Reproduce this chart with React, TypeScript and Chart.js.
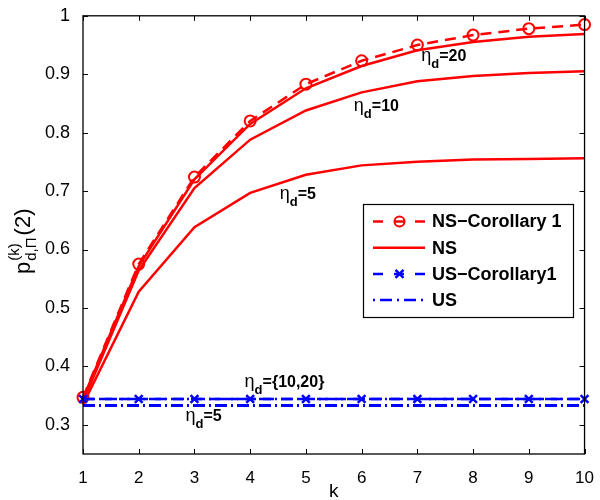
import React, { useEffect, useRef } from "react";
import { Chart, registerables } from "chart.js";

Chart.register(...registerables);

const kValues = [1, 2, 3, 4, 5, 6, 7, 8, 9, 10];
const nsCorollary20 = [0.347, 0.575, 0.724, 0.820, 0.883, 0.923, 0.950, 0.967, 0.978, 0.985];
const ns20 = [0.345, 0.571, 0.720, 0.815, 0.876, 0.914, 0.941, 0.955, 0.964, 0.969];
const ns10 = [0.340, 0.564, 0.705, 0.788, 0.838, 0.869, 0.888, 0.897, 0.902, 0.905];
const ns5 = [0.335, 0.528, 0.638, 0.697, 0.728, 0.744, 0.750, 0.754, 0.755, 0.756];
const usCorollary = [0.344, 0.344, 0.344, 0.344, 0.344, 0.344, 0.344, 0.344, 0.344, 0.344];
const us1020 = [0.344, 0.344, 0.344, 0.344, 0.344, 0.344, 0.344, 0.344, 0.344, 0.344];
const us5 = [0.333, 0.333, 0.333, 0.333, 0.333, 0.333, 0.333, 0.333, 0.333, 0.333];
const yTickValues = [0.3, 0.4, 0.5, 0.6, 0.7, 0.8, 0.9, 1.0];
const xTickValues = [1, 2, 3, 4, 5, 6, 7, 8, 9, 10];
const legendLabels = ["NS\u2212Corollary 1", "NS", "US\u2212Corollary1", "US"];
const annotations = [
  { k: 7.07, v: 0.922, text: "=20" },
  { k: 5.86, v: 0.837, text: "=10" },
  { k: 4.53, v: 0.686, text: "=5" },
  { k: 3.9, v: 0.365, text: "={10,20}" },
  { k: 2.84, v: 0.306, text: "=5" },
];

const RED = "#ff0000";
const BLUE = "#0000ff";
const FONT = "'Liberation Sans', Arial, Helvetica, sans-serif";

const toPts = (ys: number[]) => ys.map((y, i) => ({ x: kValues[i], y }));

export default function App() {
  const ref = useRef<HTMLCanvasElement | null>(null);
  useEffect(() => {
    if (!ref.current) return;
    const redDash = [11, 7];
    const blueDash = [11, 7];
    const blueDashDot = [12, 4, 2, 4];

    const framePlugin = {
      id: "frame",
      afterDraw(chart: any) {
        const ctx = chart.ctx;
        const a = chart.chartArea;
        const xs = chart.scales.x;
        const ys = chart.scales.y;
        ctx.save();
        ctx.strokeStyle = "#000";
        ctx.lineWidth = 1.3;
        ctx.setLineDash([]);
        ctx.strokeRect(a.left, a.top, a.right - a.left, a.bottom - a.top);
        const tl = 5;
        ctx.lineWidth = 1;
        ctx.beginPath();
        xTickValues.forEach((v) => {
          const px = Math.round(xs.getPixelForValue(v)) + 0.5;
          ctx.moveTo(px, a.bottom);
          ctx.lineTo(px, a.bottom - tl);
          ctx.moveTo(px, a.top);
          ctx.lineTo(px, a.top + tl);
        });
        yTickValues.forEach((v) => {
          const py = Math.round(ys.getPixelForValue(v)) + 0.5;
          ctx.moveTo(a.left, py);
          ctx.lineTo(a.left + tl, py);
          ctx.moveTo(a.right, py);
          ctx.lineTo(a.right - tl, py);
        });
        ctx.stroke();

        // annotations
        ctx.fillStyle = "#000";
        ctx.textBaseline = "alphabetic";
        ctx.textAlign = "left";
        annotations.forEach((an) => {
          const x = xs.getPixelForValue(an.k);
          const y = ys.getPixelForValue(an.v);
          ctx.font = `18px ${FONT}`;
          ctx.fillText("\u03b7", x, y);
          const ew = ctx.measureText("\u03b7").width;
          ctx.font = `bold 13px ${FONT}`;
          ctx.fillText("d", x + ew, y + 7);
          const dw = ctx.measureText("d").width;
          ctx.font = `bold 16px ${FONT}`;
          ctx.fillText(an.text, x + ew + dw, y);
        });

        // y axis title
        ctx.save();
        ctx.translate(30, 274);
        ctx.rotate(-Math.PI / 2);
        ctx.font = `22px ${FONT}`;
        ctx.fillText("p", 0, 0);
        const w = ctx.measureText("p").width;
        ctx.font = `15px ${FONT}`;
        ctx.fillText("(k)", w + 1, -11);
        ctx.fillText("d,\u03a0", w + 1, 6);
        const sw = Math.max(ctx.measureText("(k)").width, ctx.measureText("d,\u03a0").width);
        ctx.font = `22px ${FONT}`;
        ctx.fillText("(2)", w + sw + 3, 0);
        ctx.restore();

        // x axis title
        ctx.font = `19px ${FONT}`;
        ctx.textAlign = "center";
        ctx.fillText("k", (a.left + a.right) / 2, 497);

        // legend
        const lx = 363, ly = 204, lw = 210, lh = 113;
        ctx.fillStyle = "#fff";
        ctx.fillRect(lx, ly, lw, lh);
        ctx.strokeStyle = "#000";
        ctx.lineWidth = 1.2;
        ctx.strokeRect(lx + 0.5, ly + 0.5, lw, lh);
        const rows = [
          { color: RED, dash: [10, 11], marker: "circle" },
          { color: RED, dash: [], marker: "" },
          { color: BLUE, dash: [10, 11], marker: "cross" },
          { color: BLUE, dash: [2, 5, 12, 5], marker: "" },
        ];
        rows.forEach((r, i) => {
          const cy = 221.5 + i * 26.2;
          ctx.strokeStyle = r.color;
          ctx.lineWidth = 2.5;
          ctx.setLineDash(r.dash);
          ctx.beginPath();
          ctx.moveTo(373, cy);
          ctx.lineTo(425, cy);
          ctx.stroke();
          ctx.setLineDash([]);
          if (r.marker === "circle") {
            ctx.lineWidth = 2;
            ctx.beginPath();
            ctx.arc(399.5, cy, 5, 0, Math.PI * 2);
            ctx.stroke();
          } else if (r.marker === "cross") {
            ctx.lineWidth = 2.5;
            ctx.beginPath();
            ctx.moveTo(395.5, cy - 4);
            ctx.lineTo(403.5, cy + 4);
            ctx.moveTo(403.5, cy - 4);
            ctx.lineTo(395.5, cy + 4);
            ctx.stroke();
          }
          ctx.fillStyle = "#000";
          ctx.font = `bold 18px ${FONT}`;
          ctx.textAlign = "left";
          ctx.textBaseline = "middle";
          ctx.fillText(legendLabels[i], 432, cy + 1);
        });
        ctx.restore();
      },
    };

    const chart = new Chart(ref.current, {
      type: "line",
      data: {
        datasets: [
          {
            label: "US-eta5",
            data: toPts(us5),
            borderColor: BLUE,
            borderWidth: 2.8,
            borderDash: blueDashDot,
            pointRadius: 0,
            clip: false,
          },
          {
            label: "US-eta1020",
            data: toPts(us1020),
            borderColor: BLUE,
            borderWidth: 2.5,
            borderDash: blueDashDot,
            pointRadius: 0,
            clip: false,
          },
          {
            label: "US-Corollary1",
            data: toPts(usCorollary),
            borderColor: BLUE,
            borderWidth: 2.5,
            borderDash: blueDash,
            pointStyle: "crossRot",
            pointRadius: 5.5,
            pointBorderWidth: 2.5,
            pointBorderColor: BLUE,
            pointBackgroundColor: BLUE,
            clip: false,
          },
          {
            label: "NS-eta5",
            data: toPts(ns5),
            borderColor: RED,
            borderWidth: 2.5,
            pointRadius: 0,
            clip: false,
          },
          {
            label: "NS-eta10",
            data: toPts(ns10),
            borderColor: RED,
            borderWidth: 2.5,
            pointRadius: 0,
            clip: false,
          },
          {
            label: "NS-eta20",
            data: toPts(ns20),
            borderColor: RED,
            borderWidth: 2.5,
            pointRadius: 0,
            clip: false,
          },
          {
            label: "NS-Corollary 1",
            data: toPts(nsCorollary20),
            borderColor: RED,
            borderWidth: 2.5,
            borderDash: redDash,
            pointStyle: "circle",
            pointRadius: 5.5,
            pointBorderWidth: 2,
            pointBorderColor: RED,
            pointBackgroundColor: "rgba(0,0,0,0)",
            clip: false,
          },
        ],
      },
      options: {
        responsive: false,
        animation: false,
        events: [],
        layout: { padding: { top: 12, right: 11, left: 0, bottom: 0 } },
        plugins: { legend: { display: false }, tooltip: { enabled: false } },
        elements: { line: { tension: 0 } },
        scales: {
          x: {
            type: "linear",
            min: 1,
            max: 10,
            grid: { display: false },
            border: { display: false },
            afterBuildTicks: (s: any) => {
              s.ticks = xTickValues.map((v) => ({ value: v }));
            },
            afterFit: (s: any) => {
              s.height = 46;
            },
            ticks: {
              color: "#000",
              padding: 6,
              maxRotation: 0,
              font: { family: FONT, size: 17 },
              callback: (v: any) => String(v),
            },
          },
          y: {
            type: "linear",
            min: 0.25,
            max: 1,
            grid: { display: false },
            border: { display: false },
            afterBuildTicks: (s: any) => {
              s.ticks = yTickValues.map((v) => ({ value: v }));
            },
            afterFit: (s: any) => {
              s.width = 83;
            },
            ticks: {
              color: "#000",
              padding: 5,
              font: { family: FONT, size: 18 },
              callback: (v: any) => String(Number(Number(v).toFixed(1))),
            },
          },
        },
      },
      plugins: [framePlugin],
    } as any);
    return () => chart.destroy();
  }, []);
  return (
    <div style={{ position: "absolute", left: 0, top: 0, width: 600, height: 500, background: "#fff" }}>
      <canvas ref={ref} width={600} height={500} />
    </div>
  );
}
